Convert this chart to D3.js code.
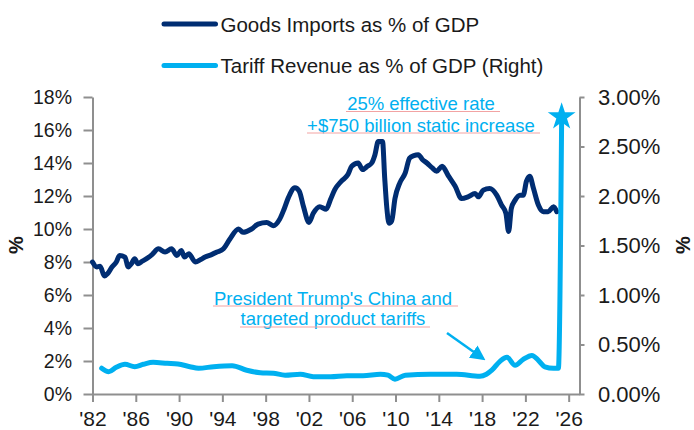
<!DOCTYPE html>
<html>
<head>
<meta charset="utf-8">
<script src="https://cdn.jsdelivr.net/npm/d3@7"></script>
<style>
  body { margin: 0; background: #fff; }
  svg { display: block; font-family: "Liberation Sans", Arial, sans-serif; }
</style>
</head>
<body>
<svg id="chart" width="694" height="430"></svg>
<script>
// Goods imports as % of GDP (left axis), by decimal year
const importYears = [
  1982.0, 1982.4, 1982.7, 1983.1, 1983.4, 1983.8, 1984.2, 1984.5, 1985.0, 1985.3,
  1985.6, 1985.9, 1986.2, 1986.6, 1987.0, 1987.5, 1988.1, 1988.7, 1989.3, 1989.8,
  1990.2, 1990.5, 1990.9, 1991.5, 1992.0, 1992.4, 1993.0, 1993.5, 1994.1, 1994.7,
  1995.5, 1995.9, 1996.7, 1997.3, 1998.1, 1998.7, 1999.3, 1999.7, 2000.1, 2000.7,
  2001.1, 2001.5, 2002.0, 2002.4, 2003.0, 2003.6, 2004.0, 2004.4, 2005.0, 2005.6,
  2005.95, 2006.55, 2006.95, 2007.4, 2007.8, 2008.1, 2008.4, 2008.8, 2009.0, 2009.2,
  2009.4, 2009.65, 2009.95, 2010.4, 2010.9, 2011.3, 2011.7, 2012.1, 2012.5, 2012.9,
  2013.4, 2013.8, 2014.3, 2014.9, 2015.5, 2016.1, 2016.7, 2017.35, 2017.65, 2018.1,
  2018.7, 2019.35, 2019.8, 2020.2, 2020.45, 2020.7, 2021.05, 2021.5, 2021.8, 2022.1,
  2022.4, 2022.75, 2023.2, 2023.65, 2024.1, 2024.6, 2024.9
];
const importValues = [
  8.0, 7.7, 7.75, 7.15, 7.3, 7.7, 8.0, 8.4, 8.3, 7.7,
  7.9, 8.2, 7.9, 8.05, 8.2, 8.45, 8.8, 8.6, 8.8, 8.4,
  8.7, 8.3, 8.5, 8.0, 8.15, 8.3, 8.45, 8.6, 8.8, 9.4,
  10.0, 9.8, 10.0, 10.3, 10.4, 10.2, 10.6, 11.2, 11.9, 12.5,
  12.3, 11.35, 10.4, 10.95, 11.35, 11.2, 11.8, 12.4, 12.9, 13.3,
  13.8, 14.0, 13.6, 13.8, 14.0, 14.5, 15.3, 15.3, 13.1, 11.25,
  10.35, 10.5, 11.85, 12.8, 13.4, 14.3, 14.45, 14.5, 14.2, 14.0,
  13.7, 13.5, 13.8, 13.2, 12.6, 11.85, 11.95, 12.15, 11.95, 12.35,
  12.45, 12.05, 11.45, 10.95, 9.85, 11.25, 11.75, 12.05, 12.05, 12.9,
  13.2, 12.45, 11.45, 11.05, 11.05, 11.35, 11.05
];

// Tariff revenue as % of GDP (right axis), by decimal year
const tariffYears = [
  1982.85, 1983.5, 1984.2, 1985.0, 1985.9, 1986.7, 1987.6, 1988.9, 1989.9, 1991.0,
  1991.8, 1993.2, 1994.9, 1996.25, 1997.5, 1998.7, 1999.8, 2001.2, 2002.4, 2004.0,
  2005.5, 2007.0, 2008.6, 2009.3, 2009.95, 2010.9, 2013.2, 2015.65, 2017.8, 2018.4,
  2018.9, 2019.65, 2020.3, 2021.05, 2021.8, 2022.6, 2023.2, 2023.8, 2024.6, 2025.05,
  2025.35
];
const tariffValues = [
  0.26, 0.225, 0.27, 0.30, 0.276, 0.30, 0.32, 0.31, 0.303, 0.276,
  0.26, 0.276, 0.286, 0.24, 0.215, 0.21, 0.19, 0.20, 0.175, 0.175,
  0.185, 0.185, 0.20, 0.19, 0.15, 0.19, 0.20, 0.20, 0.18, 0.20,
  0.24, 0.33, 0.37, 0.29, 0.35, 0.39, 0.34, 0.275, 0.26, 0.26,
  2.78
];

const xTickYears = d3.range(1982, 2027, 4);
const leftTicks = [0, 2, 4, 6, 8, 10, 12, 14, 16, 18];
const rightTicks = [0, 0.5, 1.0, 1.5, 2.0, 2.5, 3.0];

const seriesNames = ["Goods Imports as % of GDP", "Tariff Revenue as % of GDP (Right)"];
const projectionNote = ["25% effective rate", "+$750 billion static increase"];
const tariffNote = ["President Trump's China and", "targeted product tariffs"];

const NAVY = "#002d72";
const CYAN = "#00b0f0";
const AXIS = "#8f8f8f";

const svg = d3.select("#chart");
svg.append("rect").attr("width", 694).attr("height", 430).attr("fill", "#fff");

const plot = { left: 92.5, right: 579.5, top: 97, bottom: 394 };

const x = d3.scaleLinear().domain([1982, 2027]).range([plot.left, plot.right]);
const yL = d3.scaleLinear().domain([0, 18]).range([plot.bottom, plot.top]);
const yR = d3.scaleLinear().domain([0, 3]).range([plot.bottom, plot.top]);

function styleAxis(g) {
  g.selectAll(".domain").attr("stroke", AXIS).attr("stroke-width", 2);
  g.selectAll(".tick line").attr("stroke", AXIS).attr("stroke-width", 2);
  g.selectAll(".tick text").attr("fill", "#1a1a1a");
}

// Left axis
svg.append("g")
  .attr("transform", `translate(${plot.left},0)`)
  .call(d3.axisLeft(yL).tickValues(leftTicks).tickFormat(d => d + "%")
    .tickSize(9).tickSizeOuter(0).tickPadding(11.5))
  .call(styleAxis)
  .call(g => g.selectAll(".tick text").attr("font-size", 19.5).attr("font-family", null));

// Right axis
svg.append("g")
  .attr("transform", `translate(${plot.right},0)`)
  .call(d3.axisRight(yR).tickValues(rightTicks).tickFormat(d => d3.format(".2f")(d) + "%")
    .tickSize(5).tickSizeOuter(0).tickPadding(13.5))
  .call(styleAxis)
  .call(g => g.selectAll(".tick text").attr("font-size", 22).attr("font-family", null));

// Bottom axis
svg.append("g")
  .attr("transform", `translate(0,${plot.bottom})`)
  .call(d3.axisBottom(x).tickValues(xTickYears).tickFormat(d => "'" + String(d).slice(2))
    .tickSize(8).tickSizeOuter(0).tickPadding(9))
  .call(styleAxis)
  .call(g => g.selectAll(".tick text").attr("font-size", 21).attr("font-family", null));

// Axis titles
svg.append("text")
  .attr("transform", "translate(23,245) rotate(-90)")
  .attr("text-anchor", "middle")
  .attr("font-size", 20).attr("font-weight", "bold").attr("fill", "#1a1a1a")
  .text("%");
svg.append("text")
  .attr("transform", "translate(689.5,245) rotate(-90)")
  .attr("text-anchor", "middle")
  .attr("font-size", 20).attr("font-weight", "bold").attr("fill", "#1a1a1a")
  .text("%");

// Series lines
const importData = importYears.map((yr, i) => [yr, importValues[i]]);
const tariffData = tariffYears.map((yr, i) => [yr, tariffValues[i]]);

const lineL = d3.line().x(d => x(d[0])).y(d => yL(d[1])).curve(d3.curveMonotoneX);
const lineR = d3.line().x(d => x(d[0])).y(d => yR(d[1])).curve(d3.curveMonotoneX);

svg.append("path").datum(importData)
  .attr("d", lineL).attr("fill", "none").attr("stroke", NAVY)
  .attr("stroke-width", 5).attr("stroke-linejoin", "round").attr("stroke-linecap", "round");

svg.append("path").datum(tariffData)
  .attr("d", lineR).attr("fill", "none").attr("stroke", CYAN)
  .attr("stroke-width", 5).attr("stroke-linejoin", "round").attr("stroke-linecap", "round");

// Star on the projected tariff point
const last = tariffData[tariffData.length - 1];
svg.append("path")
  .attr("d", d3.symbol(d3.symbolStar, 240)())
  .attr("transform", `translate(${x(last[0])},${yR(last[1]) - 2})`)
  .attr("fill", CYAN);

// Legend
const legend = svg.append("g");
seriesNames.forEach((name, i) => {
  const yy = i === 0 ? 24 : 65.5;
  legend.append("line")
    .attr("x1", 164).attr("x2", 215.5).attr("y1", yy).attr("y2", yy)
    .attr("stroke", i === 0 ? NAVY : CYAN).attr("stroke-width", 5).attr("stroke-linecap", "round");
  legend.append("text")
    .attr("x", 220.5).attr("y", yy + 7.5)
    .attr("font-size", 20.5).attr("fill", "#1a1a1a")
    .text(name);
});

// Annotations
function note(lines, cx, baselines, underlines) {
  const g = svg.append("g");
  lines.forEach((t, i) => {
    g.append("text")
      .attr("x", cx[i]).attr("y", baselines[i])
      .attr("text-anchor", "middle")
      .attr("font-size", 18.5).attr("fill", CYAN)
      .text(t);
    g.append("line")
      .attr("x1", underlines[i][0]).attr("x2", underlines[i][1])
      .attr("y1", underlines[i][2]).attr("y2", underlines[i][2])
      .attr("stroke", "#f2a3a3").attr("stroke-width", 1);
  });
}
note(projectionNote, [421, 421], [110, 131.5], [[346, 500, 111.5], [307, 540, 133]]);
note(tariffNote, [333, 333], [305, 325], [[213, 458, 306], [240, 430, 327]]);

// Arrow pointing at the 2018 tariff rise
const defs = svg.append("defs");
defs.append("marker")
  .attr("id", "arrowHead").attr("viewBox", "0 0 10 10")
  .attr("refX", 8).attr("refY", 5)
  .attr("markerWidth", 6).attr("markerHeight", 6)
  .attr("markerUnits", "strokeWidth")
  .attr("orient", "auto")
  .append("path").attr("d", "M0,0 L10,5 L0,10 Z").attr("fill", CYAN);
svg.append("line")
  .attr("x1", 447).attr("y1", 333).attr("x2", 483).attr("y2", 358.5)
  .attr("stroke", CYAN).attr("stroke-width", 2.5)
  .attr("marker-end", "url(#arrowHead)");
</script>
</body>
</html>
